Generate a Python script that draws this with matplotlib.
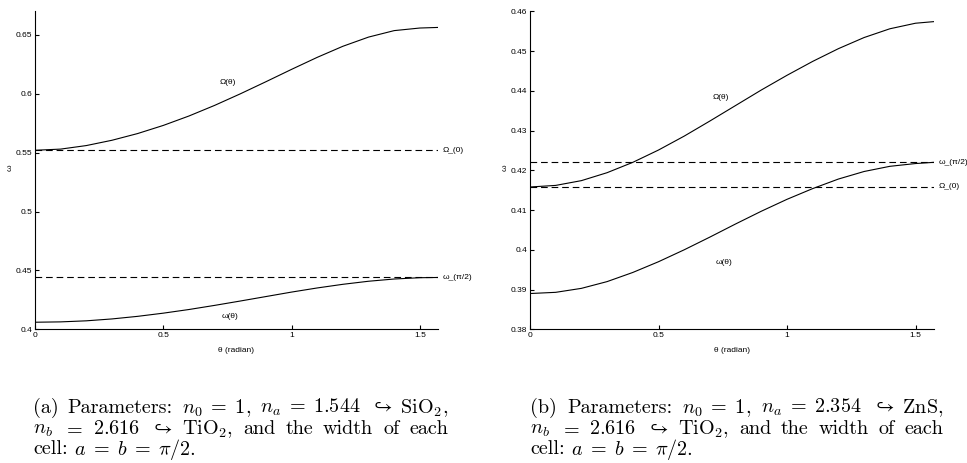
import numpy as np
import matplotlib.pyplot as plt

plt.rcParams['mathtext.fontset'] = 'cm'

# angle samples (radian)
theta = [0.0, 0.1, 0.2, 0.3, 0.4, 0.5, 0.6, 0.7, 0.8, 0.9,
         1.0, 1.1, 1.2, 1.3, 1.4, 1.5, np.pi / 2]

# (a) SiO2 / TiO2
big_a = [0.5520, 0.5530, 0.5560, 0.5605, 0.5662, 0.5731, 0.5811, 0.5901, 0.5999,
         0.6102, 0.6207, 0.6309, 0.6403, 0.6481, 0.6536, 0.6558, 0.6563]
small_a = [0.4060, 0.4063, 0.4072, 0.4088, 0.4110, 0.4137, 0.4168, 0.4203, 0.4240,
           0.4278, 0.4316, 0.4351, 0.4382, 0.4408, 0.4427, 0.4438, 0.4440]
big0_a = 0.552
smallpi2_a = 0.444

# (b) ZnS / TiO2
big_b = [0.4158, 0.4162, 0.4174, 0.4194, 0.4220, 0.4251, 0.4286, 0.4324, 0.4363,
         0.4402, 0.4439, 0.4474, 0.4506, 0.4534, 0.4556, 0.4570, 0.4574]
small_b = [0.3890, 0.3893, 0.3903, 0.3920, 0.3943, 0.3970, 0.4000, 0.4032, 0.4065,
           0.4097, 0.4127, 0.4154, 0.4178, 0.4197, 0.4210, 0.4217, 0.4220]
big0_b = 0.4158
smallpi2_b = 0.422

xticks = [0, 0.5, 1, 1.5]
xtick_labels = ['0', '0.5', '1', '1.5']
yticks_a = [0.4, 0.45, 0.5, 0.55, 0.6, 0.65]
ytick_labels_a = ['0.4', '0.45', '0.5', '0.55', '0.6', '0.65']
yticks_b = [0.38, 0.39, 0.4, 0.41, 0.42, 0.43, 0.44, 0.45, 0.46]
ytick_labels_b = ['0.38', '0.39', '0.4', '0.41', '0.42', '0.43', '0.44', '0.45', '0.46']

cap_a = [["(a)", "Parameters:", r"$n_0\;=\;1$,", r"$n_a\;=\;1.544$",
          r"$\hookrightarrow\;\mathrm{SiO}_2$,"],
         ["$n_b$", "$=$", "$2.616$", r"$\hookrightarrow$", r"$\mathrm{TiO}_2$,", "and", "the",
          "width", "of", "each"],
         ["cell:", r"$a\;=\;b\;=\;\pi/2$."]]
cap_b = [["(b)", "Parameters:", r"$n_0\;=\;1$,", r"$n_a\;=\;2.354$",
          r"$\hookrightarrow\;\mathrm{ZnS}$,"],
         ["$n_b$", "$=$", "$2.616$", r"$\hookrightarrow$", r"$\mathrm{TiO}_2$,", "and", "the",
          "width", "of", "each"],
         ["cell:", r"$a\;=\;b\;=\;\pi/2$."]]

SANS = 'Liberation Sans'
W, H = 967, 463

fig = plt.figure(figsize=(W / 100, H / 100), dpi=100)
ax1 = fig.add_axes([35 / W, 1 - 329.3 / H, 403 / W, 318 / H])
ax2 = fig.add_axes([530 / W, 1 - 329.3 / H, 403.7 / W, 318 / H])


def style(ax, yt, ytl, ylim):
    ax.set_xlim(0, np.pi / 2)
    ax.set_ylim(*ylim)
    for s in ['top', 'right']:
        ax.spines[s].set_visible(False)
    for s in ['left', 'bottom']:
        ax.spines[s].set_linewidth(0.8)
    ax.set_xticks(xticks)
    ax.set_xticklabels(xtick_labels, fontsize=6, family=SANS)
    ax.set_yticks(yt)
    ax.set_yticklabels(ytl, fontsize=6, family=SANS)
    ax.tick_params(direction='in', length=3, width=0.8, pad=2)
    ax.set_xlabel('θ (radian)', fontsize=6, family=SANS)
    ax.xaxis.set_label_coords(0.5, -0.057)
    ax.set_ylabel('ω', fontsize=6, family=SANS)
    ax.yaxis.set_label_coords(-0.053, 0.509)


def draw(ax, big, small, big0, smallpi2, lab_big, lab_small, lab_x):
    ax.plot(theta, big, color='k', lw=0.8)
    ax.plot(theta, small, color='k', lw=0.8)
    ax.axhline(big0, color='k', lw=0.8, dashes=(6, 3.5))
    ax.axhline(smallpi2, color='k', lw=0.8, dashes=(6, 3.5))
    ax.text(lab_big[0], lab_big[1], 'Ω(θ)', fontsize=6, family=SANS, ha='center', va='center')
    ax.text(lab_small[0], lab_small[1], 'ω(θ)', fontsize=6, family=SANS, ha='center', va='center')
    ax.text(lab_x, big0, 'Ω_(0)', fontsize=6, family=SANS, ha='left', va='center')
    ax.text(lab_x, smallpi2, 'ω_(π/2)', fontsize=6, family=SANS, ha='left', va='center')


style(ax1, yticks_a, ytick_labels_a, (0.4, 0.67))
draw(ax1, big_a, small_a, big0_a, smallpi2_a, (0.751, 0.6094), (0.759, 0.4107), 1.588)
style(ax2, yticks_b, ytick_labels_b, (0.38, 0.46))
draw(ax2, big_b, small_b, big0_b, smallpi2_b, (0.742, 0.4384), (0.756, 0.3968), 1.591)

# captions, justified like the latex source
renderer = fig.canvas.get_renderer()


def caption(lines, x0, x1, baselines):
    for i, (tokens, yb) in enumerate(zip(lines, baselines)):
        items = [fig.text(x0 / W, 1 - yb / H, t, fontsize=14.5, family='cmr10', va='baseline')
                 for t in tokens]
        widths = [it.get_window_extent(renderer).width for it in items]
        if i < len(lines) - 1:
            gap = max(2.0, (x1 - x0 - sum(widths)) / (len(tokens) - 1))
        else:
            gap = 6.5
        x = x0
        for it, w in zip(items, widths):
            it.set_x(x / W)
            x += w + gap


caption(cap_a, 33, 448, [413, 434, 454.5])
caption(cap_b, 530, 943, [413, 434, 454.5])

fig.savefig('out.png', dpi=100)
